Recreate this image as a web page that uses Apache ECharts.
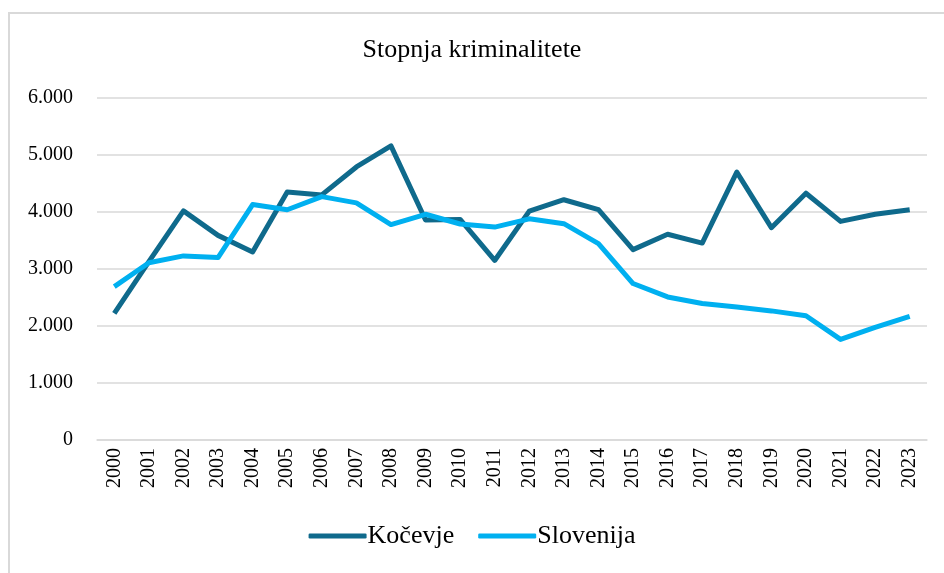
<!DOCTYPE html>
<html>
<head>
<meta charset="utf-8">
<script src="https://cdn.jsdelivr.net/npm/echarts@6/dist/echarts.min.js"></script>
<style>
  html, body { margin: 0; padding: 0; background: #fff; overflow: hidden; }
  #frame { position: absolute; left: 8px; top: 12px; width: 1000px; height: 700px;
           border-left: 2px solid #d9d9d9; border-top: 2px solid #d9d9d9; }
  #chart { position: absolute; left: 0; top: 0; width: 944px; height: 573px; }
</style>
</head>
<body>
<div id="frame"></div>
<div id="chart"></div>
<script>
'use strict'

const years = ['2000', '2001', '2002', '2003', '2004', '2005', '2006', '2007', '2008', '2009', '2010', '2011',
               '2012', '2013', '2014', '2015', '2016', '2017', '2018', '2019', '2020', '2021', '2022', '2023'];
const kocevje = [2220, 3130, 4020, 3590, 3300, 4350, 4300, 4790, 5160, 3860, 3870, 3150,
                 4015, 4215, 4040, 3340, 3610, 3455, 4700, 3725, 4330, 3835, 3960, 4040];
const slovenija = [2690, 3110, 3230, 3200, 4130, 4040, 4270, 4160, 3780, 3960, 3790, 3735,
                   3880, 3795, 3445, 2745, 2510, 2395, 2335, 2265, 2180, 1765, 1975, 2170];

const font = '"Liberation Serif", "DejaVu Serif", serif';
const chart = echarts.init(document.getElementById('chart'));

const option = {
    backgroundColor: 'transparent',
    animation: false,
    title: {
        text: 'Stopnja kriminalitete',
        left: 'center',
        top: 32,
        textStyle: { fontFamily: font, fontSize: 26, fontWeight: 'normal', color: '#000' }
    },
    legend: {
        bottom: 19,
        left: 'center',
        itemWidth: 58,
        itemHeight: 5,
        itemGap: 24,
        icon: 'roundRect',
        textStyle: { fontFamily: font, fontSize: 26, color: '#000', padding: [0, 0, 0, -4] },
        data: ['Kočevje', 'Slovenija']
    },
    grid: { left: 97, right: 17, top: 98, bottom: 133, containLabel: false },
    xAxis: {
        type: 'category',
        data: years,
        boundaryGap: true,
        axisLine: { lineStyle: { color: '#d9d9d9', width: 1.5 } },
        axisTick: { show: false },
        axisLabel: { rotate: 90, fontFamily: font, fontSize: 20, color: '#000', margin: 8, interval: 0 }
    },
    yAxis: {
        type: 'value',
        min: 0,
        max: 6000,
        interval: 1000,
        axisLine: { show: false },
        axisTick: { show: false },
        splitLine: { lineStyle: { color: '#d9d9d9', width: 1.5 } },
        axisLabel: {
            fontFamily: font, fontSize: 20, color: '#000', margin: 24,
            formatter: function (v) { return v === 0 ? '0' : (v / 1000) + '.000'; }
        }
    },
    series: [
        {
            name: 'Kočevje',
            type: 'line',
            data: kocevje,
            symbol: 'none',
            lineStyle: { color: '#0f6a8c', width: 5, join: 'round' },
            itemStyle: { color: '#0f6a8c' }
        },
        {
            name: 'Slovenija',
            type: 'line',
            data: slovenija,
            symbol: 'none',
            lineStyle: { color: '#00b0f0', width: 5, join: 'round' },
            itemStyle: { color: '#00b0f0' }
        }
    ]
};

chart.setOption(option);
</script>
</body>
</html>
